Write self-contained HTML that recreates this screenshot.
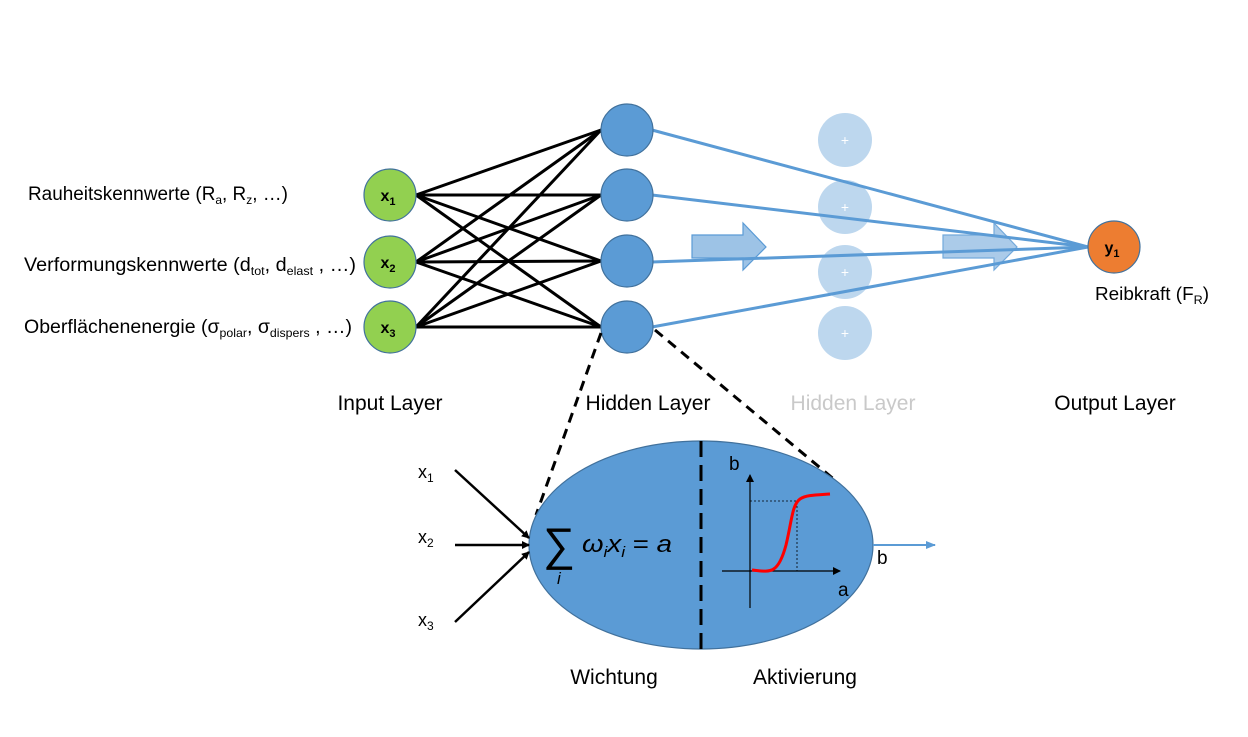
<!DOCTYPE html>
<html><head><meta charset="utf-8"><style>
body{margin:0;background:#fff;}
svg text{font-family:"Liberation Sans","DejaVu Sans",sans-serif;}
</style></head><body>
<svg width="1248" height="732" viewBox="0 0 1248 732" xmlns="http://www.w3.org/2000/svg">
<defs>
<marker id="ah" markerWidth="8" markerHeight="8" refX="7" refY="4" orient="auto" markerUnits="userSpaceOnUse"><path d="M0,0 L8,4 L0,8 z" fill="#000"/></marker>
<marker id="ahb" markerWidth="10" markerHeight="8" refX="9" refY="4" orient="auto" markerUnits="userSpaceOnUse"><path d="M0,0 L10,4 L0,8 z" fill="#5b9bd5"/></marker>
</defs>
<g fill="#bdd7ee">
<circle cx="845" cy="140" r="27"/><circle cx="845" cy="207" r="27"/><circle cx="845" cy="272" r="27"/><circle cx="845" cy="333" r="27"/>
</g>
<g fill="#fff" font-size="14" text-anchor="middle">
<text x="845" y="145">+</text><text x="845" y="212">+</text><text x="845" y="277">+</text><text x="845" y="338">+</text>
</g>
<g stroke="#000" stroke-width="3">
<line x1="416" y1="195" x2="601" y2="130"/><line x1="416" y1="195" x2="601" y2="195"/><line x1="416" y1="195" x2="601" y2="261"/><line x1="416" y1="195" x2="601" y2="327"/>
<line x1="416" y1="262" x2="601" y2="130"/><line x1="416" y1="262" x2="601" y2="195"/><line x1="416" y1="262" x2="601" y2="261"/><line x1="416" y1="262" x2="601" y2="327"/>
<line x1="416" y1="327" x2="601" y2="130"/><line x1="416" y1="327" x2="601" y2="195"/><line x1="416" y1="327" x2="601" y2="261"/><line x1="416" y1="327" x2="601" y2="327"/>
</g>
<g fill="#9dc3e6" stroke="#5b9bd5" stroke-width="1.2">
<path d="M692,235 L743,235 L743,223 L766,247 L743,270 L743,258 L692,258 Z"/>
<path d="M943,235 L994,235 L994,223 L1017,247 L994,270 L994,258 L943,258 Z" opacity="0.85"/>
</g>
<g stroke="#5b9bd5" stroke-width="3">
<line x1="652" y1="130" x2="1088" y2="247"/><line x1="652" y1="195" x2="1088" y2="247"/><line x1="652" y1="262" x2="1088" y2="247"/><line x1="652" y1="327" x2="1088" y2="247"/>
</g>
<g fill="#92d050" stroke="#41719c" stroke-width="1.2">
<circle cx="390" cy="195" r="26"/><circle cx="390" cy="262" r="26"/><circle cx="390" cy="327" r="26"/>
</g>
<g fill="#5b9bd5" stroke="#41719c" stroke-width="1.2">
<circle cx="627" cy="130" r="26"/><circle cx="627" cy="195" r="26"/><circle cx="627" cy="261" r="26"/><circle cx="627" cy="327" r="26"/>
</g>
<circle cx="1114" cy="247" r="26" fill="#ed7d31" stroke="#41719c" stroke-width="1.2"/>
<g font-weight="bold" font-size="16" text-anchor="middle">
<text x="388" y="201">x<tspan font-size="11" dy="4">1</tspan></text>
<text x="388" y="268">x<tspan font-size="11" dy="4">2</tspan></text>
<text x="388" y="333">x<tspan font-size="11" dy="4">3</tspan></text>
<text x="1112" y="253">y<tspan font-size="11" dy="4">1</tspan></text>
</g>
<g font-size="19" fill="#000">
<text x="28" y="200" textLength="260" lengthAdjust="spacingAndGlyphs">Rauheitskennwerte (R<tspan font-size="12" dy="4">a</tspan><tspan dy="-4">, R</tspan><tspan font-size="12" dy="4">z</tspan><tspan dy="-4">, …)</tspan></text>
<text x="24" y="271" textLength="332" lengthAdjust="spacingAndGlyphs">Verformungskennwerte (d<tspan font-size="12" dy="4">tot</tspan><tspan dy="-4">, d</tspan><tspan font-size="12" dy="4">elast</tspan><tspan dy="-4"> , …)</tspan></text>
<text x="24" y="333" textLength="328" lengthAdjust="spacingAndGlyphs">Oberflächenenergie (σ<tspan font-size="12" dy="4">polar</tspan><tspan dy="-4">, σ</tspan><tspan font-size="12" dy="4">dispers</tspan><tspan dy="-4"> , …)</tspan></text>
<text x="1095" y="300" font-size="18" textLength="114" lengthAdjust="spacingAndGlyphs">Reibkraft (F<tspan font-size="12" dy="4">R</tspan><tspan dy="-4">)</tspan></text>
</g>
<g font-size="21" text-anchor="middle">
<text x="390" y="410">Input Layer</text>
<text x="648" y="410">Hidden Layer</text>
<text x="853" y="410" fill="#c9c9c9">Hidden Layer</text>
<text x="1115" y="410">Output Layer</text>
<text x="614" y="684">Wichtung</text>
<text x="805" y="684">Aktivierung</text>
</g>
<g stroke="#000" stroke-width="3" stroke-dasharray="10,7">
<line x1="601" y1="333" x2="536" y2="515"/>
<line x1="655" y1="330" x2="836" y2="481"/>
</g>
<ellipse cx="701" cy="545" rx="172" ry="104" fill="#5b9bd5" stroke="#41719c" stroke-width="1.2"/>
<line x1="701" y1="441" x2="701" y2="650" stroke="#000" stroke-width="3" stroke-dasharray="16,8"/>
<g stroke="#000" stroke-width="2.5">
<line x1="455" y1="470" x2="529" y2="538" marker-end="url(#ah)"/>
<line x1="455" y1="545" x2="529" y2="545" marker-end="url(#ah)"/>
<line x1="455" y1="622" x2="529" y2="552" marker-end="url(#ah)"/>
</g>
<g font-size="18">
<text x="418" y="478">x<tspan font-size="12" dy="4">1</tspan></text>
<text x="418" y="543">x<tspan font-size="12" dy="4">2</tspan></text>
<text x="418" y="626">x<tspan font-size="12" dy="4">3</tspan></text>
</g>
<text x="543" y="560" font-size="46" font-family="'DejaVu Serif',serif" textLength="32" lengthAdjust="spacingAndGlyphs">∑</text>
<text x="557" y="584" font-size="17" font-style="italic" font-family="'DejaVu Serif',serif">i</text>
<text x="582" y="552" font-size="24" font-style="italic" font-family="'DejaVu Serif',serif" textLength="90" lengthAdjust="spacingAndGlyphs">ω<tspan font-size="15" dy="5">i</tspan><tspan dy="-5">x</tspan><tspan font-size="15" dy="5">i</tspan><tspan dy="-5" font-style="normal"> = </tspan>a</text>
<line x1="750" y1="608" x2="750" y2="475" stroke="#000" stroke-width="1.2" marker-end="url(#ah)"/>
<line x1="722" y1="571" x2="840" y2="571" stroke="#000" stroke-width="1.2" marker-end="url(#ah)"/>
<g stroke="#000" stroke-width="0.8" stroke-dasharray="2,2" fill="none">
<polyline points="750,501 797,501 797,571"/>
</g>
<path d="M752,570 C770,572 778,575 786,545 C792,520 792,505 800,499 C806,495 815,495 830,494" stroke="#f00" stroke-width="3" fill="none"/>
<g font-size="19">
<text x="729" y="470">b</text>
<text x="838" y="596">a</text>
<text x="877" y="564">b</text>
</g>
<line x1="873" y1="545" x2="935" y2="545" stroke="#5b9bd5" stroke-width="2" marker-end="url(#ahb)"/>
</svg>
</body></html>
